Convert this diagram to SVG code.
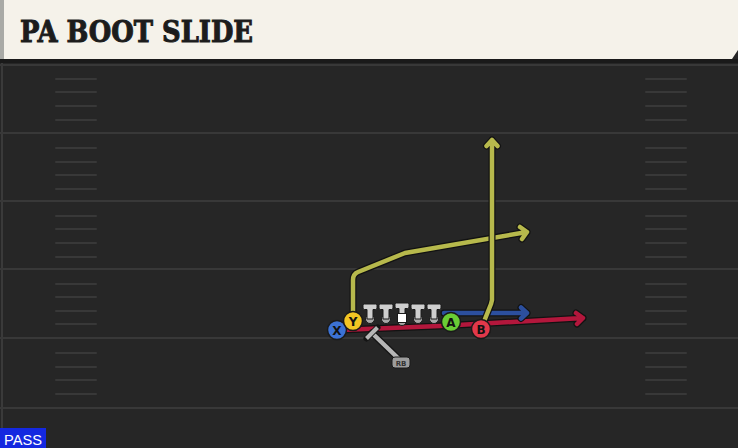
<svg xmlns="http://www.w3.org/2000/svg" width="738" height="448" viewBox="0 0 738 448">
<defs>
<style>
.yard{stroke:#383838;stroke-width:2}
.hash{stroke:#383838;stroke-width:2;stroke-linecap:round}
.out{fill:none;stroke:#121212;stroke-width:7;stroke-linecap:round;stroke-linejoin:round}
.rt{fill:none;stroke-width:4.5;stroke-linecap:round;stroke-linejoin:round}
.yel{stroke:#b7b94c}
.red{stroke:#b3173c}
.blu{stroke:#2c4f9e}
.lbl{font-family:"DejaVu Sans","Liberation Sans",sans-serif;font-weight:bold;font-size:12px;text-anchor:middle;fill:#111}
.pl{stroke:#1a1a1a;stroke-width:1.5}
.ol{fill:#cfcfcf}
.bulb{fill:#a8a8a8}
</style>
</defs>
<rect x="0" y="0" width="738" height="448" fill="#262626"/>
<g id="field">
<line x1="2" y1="60" x2="2" y2="448" stroke="#3a3a3a" stroke-width="2"/>
<line x1="0" y1="65" x2="738" y2="65" class="yard"/>
<line x1="0" y1="133" x2="738" y2="133" class="yard"/>
<line x1="0" y1="201" x2="738" y2="201" class="yard"/>
<line x1="0" y1="269" x2="738" y2="269" class="yard"/>
<line x1="0" y1="338" x2="738" y2="338" class="yard"/>
<line x1="0" y1="408" x2="738" y2="408" class="yard"/>
<g id="hashes-left">
<line x1="56" y1="79" x2="96" y2="79" class="hash"/><line x1="56" y1="92" x2="96" y2="92" class="hash"/><line x1="56" y1="106" x2="96" y2="106" class="hash"/><line x1="56" y1="120" x2="96" y2="120" class="hash"/>
<line x1="56" y1="148" x2="96" y2="148" class="hash"/><line x1="56" y1="162" x2="96" y2="162" class="hash"/><line x1="56" y1="175" x2="96" y2="175" class="hash"/><line x1="56" y1="189" x2="96" y2="189" class="hash"/>
<line x1="56" y1="216" x2="96" y2="216" class="hash"/><line x1="56" y1="229" x2="96" y2="229" class="hash"/><line x1="56" y1="243" x2="96" y2="243" class="hash"/><line x1="56" y1="257" x2="96" y2="257" class="hash"/>
<line x1="56" y1="284" x2="96" y2="284" class="hash"/><line x1="56" y1="297" x2="96" y2="297" class="hash"/><line x1="56" y1="311" x2="96" y2="311" class="hash"/><line x1="56" y1="324" x2="96" y2="324" class="hash"/>
<line x1="56" y1="353" x2="96" y2="353" class="hash"/><line x1="56" y1="367" x2="96" y2="367" class="hash"/><line x1="56" y1="380" x2="96" y2="380" class="hash"/><line x1="56" y1="394" x2="96" y2="394" class="hash"/>
</g>
<g id="hashes-right">
<line x1="646" y1="79" x2="686" y2="79" class="hash"/><line x1="646" y1="92" x2="686" y2="92" class="hash"/><line x1="646" y1="106" x2="686" y2="106" class="hash"/><line x1="646" y1="120" x2="686" y2="120" class="hash"/>
<line x1="646" y1="148" x2="686" y2="148" class="hash"/><line x1="646" y1="162" x2="686" y2="162" class="hash"/><line x1="646" y1="175" x2="686" y2="175" class="hash"/><line x1="646" y1="189" x2="686" y2="189" class="hash"/>
<line x1="646" y1="216" x2="686" y2="216" class="hash"/><line x1="646" y1="229" x2="686" y2="229" class="hash"/><line x1="646" y1="243" x2="686" y2="243" class="hash"/><line x1="646" y1="257" x2="686" y2="257" class="hash"/>
<line x1="646" y1="284" x2="686" y2="284" class="hash"/><line x1="646" y1="297" x2="686" y2="297" class="hash"/><line x1="646" y1="311" x2="686" y2="311" class="hash"/><line x1="646" y1="324" x2="686" y2="324" class="hash"/>
<line x1="646" y1="353" x2="686" y2="353" class="hash"/><line x1="646" y1="367" x2="686" y2="367" class="hash"/><line x1="646" y1="380" x2="686" y2="380" class="hash"/><line x1="646" y1="394" x2="686" y2="394" class="hash"/>
</g>
</g>
<g id="header">
<rect x="0" y="59" width="738" height="4" fill="#1a1a1a"/>
<path d="M0,0 H738 V50 L732,59 H0 Z" fill="#f5f2ea"/>
<rect x="0" y="0" width="4" height="59" fill="#a9aaa6"/>
<text x="20" y="42" font-family="'DejaVu Serif','Liberation Serif',serif" font-weight="bold" font-size="29" fill="#1c1c1c" stroke="#1c1c1c" stroke-width="1" textLength="233" lengthAdjust="spacingAndGlyphs">PA BOOT SLIDE</text>
</g>
<g id="connectors">
<g id="route-red">
<path class="out" d="M340,330 L440,326 L583,318 M576,313 L583,318 L577,324"/>
<path class="rt red" d="M340,330 L440,326 L583,318 M576,313 L583,318 L577,324"/>
</g>
<g id="route-blue">
<path class="out" d="M444,313 L527,313 M521,307.5 L527,313 L521,318.5"/>
<path class="rt blu" d="M444,313 L527,313 M521,307.5 L527,313 L521,318.5"/>
</g>
<g id="route-y">
<path class="out" d="M353,318 L353,280 Q353,274 358,272 L405,253 L527,232 M520,227 L527,232 L522,239"/>
<path class="rt yel" d="M353,318 L353,280 Q353,274 358,272 L405,253 L527,232 M520,227 L527,232 L522,239"/>
</g>
<g id="route-b">
<path class="out" d="M483,324 L491,304 L492,300 L492,140 M486.5,146 L492,140 L497.5,146"/>
<path class="rt yel" d="M483,324 L491,304 L492,300 L492,140 M486.5,146 L492,140 L497.5,146"/>
</g>
<g id="route-rb">
<path d="M372,333 L400,360" stroke="#141414" stroke-width="7" stroke-linecap="round"/>
<path d="M372,333 L400,360" stroke="#b5b5b5" stroke-width="4.5"/>
<path d="M366.5,338.5 L377.5,327.5" stroke="#141414" stroke-width="6" stroke-linecap="round"/>
<path d="M366.5,338.5 L377.5,327.5" stroke="#b5b5b5" stroke-width="4"/>
</g>
</g>
<g id="line" stroke="#1a1a1a" stroke-width="1">
<g id="lt"><circle cx="370" cy="319" r="4.5" class="bulb"/><path class="ol" d="M363,305.5 Q363,304 364.5,304 H375.5 Q377,304 377,305.5 V308 Q377,309.5 375.5,309.5 H373 V319 H367 V309.5 H364.5 Q363,309.5 363,308 Z"/></g>
<g id="lg"><circle cx="386" cy="319" r="4.5" class="bulb"/><path class="ol" d="M379,305.5 Q379,304 380.5,304 H391.5 Q393,304 393,305.5 V308 Q393,309.5 391.5,309.5 H389 V319 H383 V309.5 H380.5 Q379,309.5 379,308 Z"/></g>
<g id="c"><circle cx="402" cy="321" r="4.5" class="bulb"/><path class="ol" d="M395,304.5 Q395,303 396.5,303 H407.5 Q409,303 409,304.5 V307 Q409,308.5 407.5,308.5 H405 V314 H399 V308.5 H396.5 Q395,308.5 395,307 Z"/><rect x="397.5" y="313.5" width="9" height="9" fill="#ffffff"/></g>
<g id="rg"><circle cx="418" cy="319" r="4.5" class="bulb"/><path class="ol" d="M411,305.5 Q411,304 412.5,304 H423.5 Q425,304 425,305.5 V308 Q425,309.5 423.5,309.5 H421 V319 H415 V309.5 H412.5 Q411,309.5 411,308 Z"/></g>
<g id="rt"><circle cx="434" cy="319" r="4.5" class="bulb"/><path class="ol" d="M427,305.5 Q427,304 428.5,304 H439.5 Q441,304 441,305.5 V308 Q441,309.5 439.5,309.5 H437 V319 H431 V309.5 H428.5 Q427,309.5 427,308 Z"/></g>
</g>
<g id="rb">
<rect x="392" y="357" width="18" height="11" rx="3" fill="#9d9d9d" stroke="#1a1a1a" stroke-width="1"/>
<text x="401" y="365.5" font-family="'DejaVu Sans','Liberation Sans',sans-serif" font-weight="bold" font-size="7" text-anchor="middle" fill="#333">RB</text>
</g>
<g id="player-x"><circle cx="337" cy="330" r="9.5" fill="#3c72d4" class="pl"/><text x="337" y="334.5" class="lbl">X</text></g>
<g id="player-y"><circle cx="353" cy="321" r="9.5" fill="#f2c523" class="pl"/><text x="353" y="325.5" class="lbl">Y</text></g>
<g id="player-a"><circle cx="451" cy="322" r="9.5" fill="#6acd35" class="pl"/><text x="451" y="326.5" class="lbl">A</text></g>
<g id="player-b"><circle cx="481" cy="329" r="9.5" fill="#e2384a" class="pl"/><text x="481" y="333.5" class="lbl">B</text></g>
<g id="tag">
<rect x="0" y="428" width="46" height="20" fill="#1428e0"/>
<text x="4" y="445" font-family="'Liberation Sans',Arial,sans-serif" font-size="15" fill="#ffffff" textLength="38" lengthAdjust="spacingAndGlyphs">PASS</text>
</g>
</svg>
